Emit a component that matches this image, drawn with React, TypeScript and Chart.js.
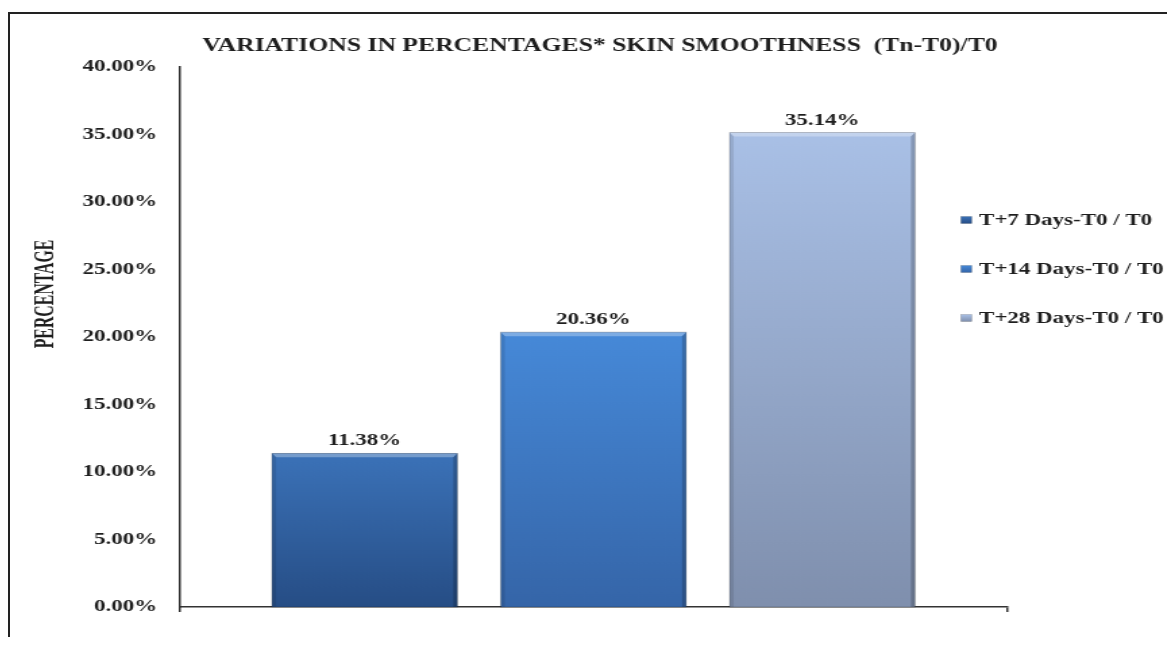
import React, { useEffect, useRef } from 'react';
import { Chart, registerables } from 'chart.js';

Chart.register(...registerables);

// ---- data ----
const categories = [''];
const seriesLabels = ['T+7 Days-T0 / T0', 'T+14 Days-T0 / T0', 'T+28 Days-T0 / T0'];
const seriesValues = [11.38, 20.36, 35.14];
const yMin = 0;
const yMax = 40;
const yStep = 5;
const chartTitle = 'VARIATIONS IN PERCENTAGES* SKIN SMOOTHNESS  (Tn-T0)/T0';
const yAxisTitle = 'PERCENTAGE';

// ---- styles ----
const gradientTops = ['#3b72b8', '#4689d8', '#a9c0e6'];
const gradientBottoms = ['#264d85', '#3565a8', '#7f8fad'];
const FONT = '"Liberation Serif", "Times New Roman", serif';
const TEXT = '#1e1e1e';
const STRETCH = 1.35;
const CW = 863;
const CH = 631;

function barGradient(ctx: any, i: number) {
  const chart = ctx.chart;
  const y = chart.scales && chart.scales.y;
  if (!y || !chart.chartArea) return gradientTops[i];
  const v = ctx.raw ?? seriesValues[i];
  const top = y.getPixelForValue(v);
  const bottom = y.getPixelForValue(0);
  const g = chart.ctx.createLinearGradient(0, top, 0, bottom);
  g.addColorStop(0, gradientTops[i]);
  g.addColorStop(1, gradientBottoms[i]);
  return g;
}

const decorPlugin = {
  id: 'decor',
  afterDatasetsDraw(chart: any) {
    const c = chart.ctx;
    chart.data.datasets.forEach((ds: any, i: number) => {
      const meta = chart.getDatasetMeta(i);
      meta.data.forEach((el: any, j: number) => {
        const { x, y, base, width } = el.getProps(['x', 'y', 'base', 'width'], true);
        const l = x - width / 2;
        const r = x + width / 2;
        const sw = 3;
        const th = 4;
        c.save();
        c.fillStyle = 'rgba(255,255,255,0.30)';
        c.beginPath();
        c.moveTo(l, y); c.lineTo(r, y); c.lineTo(r - sw, y + th); c.lineTo(l + sw, y + th);
        c.closePath(); c.fill();
        c.fillStyle = 'rgba(0,0,0,0.10)';
        c.beginPath();
        c.moveTo(l, y); c.lineTo(l + sw, y + th); c.lineTo(l + sw, base); c.lineTo(l, base);
        c.closePath(); c.fill();
        c.fillStyle = 'rgba(0,0,0,0.20)';
        c.beginPath();
        c.moveTo(r, y); c.lineTo(r - sw, y + th); c.lineTo(r - sw, base); c.lineTo(r, base);
        c.closePath(); c.fill();
        c.strokeStyle = 'rgba(0,0,0,0.25)';
        c.lineWidth = 0.8;
        c.strokeRect(l, y, width, base - y);
        const v = ds.data[j];
        c.fillStyle = TEXT;
        c.font = `bold 17px ${FONT}`;
        c.textAlign = 'center';
        c.textBaseline = 'alphabetic';
        c.fillText(v.toFixed(2) + '%', x, y - 8);
        c.restore();
      });
    });
  },
  afterDraw(chart: any) {
    const c = chart.ctx;
    c.save();
    c.fillStyle = TEXT;
    c.font = `bold 19px ${FONT}`;
    c.textAlign = 'center';
    c.textBaseline = 'middle';
    c.fillText(chartTitle, 437, 32);
    c.save();
    c.translate(26.7, 280);
    c.rotate(-Math.PI / 2);
    c.scale(0.79, 1);
    c.font = `bold 20px ${FONT}`;
    c.textAlign = 'center';
    c.textBaseline = 'middle';
    c.fillText(yAxisTitle, 0, 0);
    c.restore();
    const boxX = 704.4;
    const textX = 717.8;
    const rows = [206, 255, 304];
    seriesLabels.forEach((lab, i) => {
      const cy = rows[i];
      const g = c.createLinearGradient(0, cy - 3.5, 0, cy + 3.5);
      g.addColorStop(0, gradientTops[i]);
      g.addColorStop(1, gradientBottoms[i]);
      c.fillStyle = g;
      c.fillRect(boxX, cy - 3.5, 8, 7);
      c.strokeStyle = 'rgba(0,0,0,0.25)';
      c.lineWidth = 0.6;
      c.strokeRect(boxX, cy - 3.5, 8, 7);
      c.fillStyle = TEXT;
      c.font = `bold 17px ${FONT}`;
      c.textAlign = 'left';
      c.textBaseline = 'middle';
      c.fillText(lab, textX, cy + 1);
    });
    c.restore();
  },
};

export default function App() {
  const ref = useRef<HTMLCanvasElement | null>(null);
  useEffect(() => {
    document.documentElement.style.overflow = 'hidden';
    const canvas = ref.current;
    if (!canvas) return;
    const chart = new Chart(canvas, {
      type: 'bar',
      data: {
        labels: categories,
        datasets: seriesLabels.map((label, i) => ({
          label,
          data: [seriesValues[i]],
          backgroundColor: (ctx: any) => barGradient(ctx, i),
          borderWidth: 0,
          categoryPercentage: 0.83,
          barPercentage: 0.81,
        })),
      },
      options: {
        responsive: false,
        animation: false,
        devicePixelRatio: 1,
        layout: { padding: { left: 0, right: CW - 738.5, top: 53, bottom: CH - 593 - 8 } },
        plugins: {
          legend: { display: false },
          tooltip: { enabled: false },
          title: { display: false },
        },
        scales: {
          x: {
            offset: true,
            grid: {
              display: true,
              drawOnChartArea: false,
              drawTicks: true,
              tickLength: 5,
              color: '#333',
              lineWidth: 1.5,
            },
            border: { display: true, color: '#333', width: 1.5 },
            ticks: { display: false },
            afterFit: (scale: any) => { scale.height = 8; },
          },
          y: {
            min: yMin,
            max: yMax,
            grid: { display: false, drawTicks: false },
            border: { display: true, color: '#333', width: 1.5 },
            ticks: {
              stepSize: yStep,
              padding: 17,
              color: TEXT,
              font: { family: FONT, size: 17, weight: 'bold' },
              callback: (v: any) => Number(v).toFixed(2) + '%',
            },
            afterFit: (scale: any) => { scale.width = 125.9; },
          },
        },
      },
      plugins: [decorPlugin],
    });
    return () => chart.destroy();
  }, []);

  return (
    <div
      style={{
        position: 'relative',
        top: 4,
        boxSizing: 'border-box',
        width: 1167,
        height: 629,
        borderTop: '2px solid #222',
        borderLeft: '2px solid #222',
        overflow: 'hidden',
        background: '#fff',
      }}
    >
      <div
        style={{
          position: 'absolute',
          left: 0,
          top: 0,
          transform: `scaleX(${STRETCH})`,
          transformOrigin: '0 0',
        }}
      >
        <canvas ref={ref} width={CW} height={CH} style={{ width: CW, height: CH, display: 'block' }} />
      </div>
    </div>
  );
}
